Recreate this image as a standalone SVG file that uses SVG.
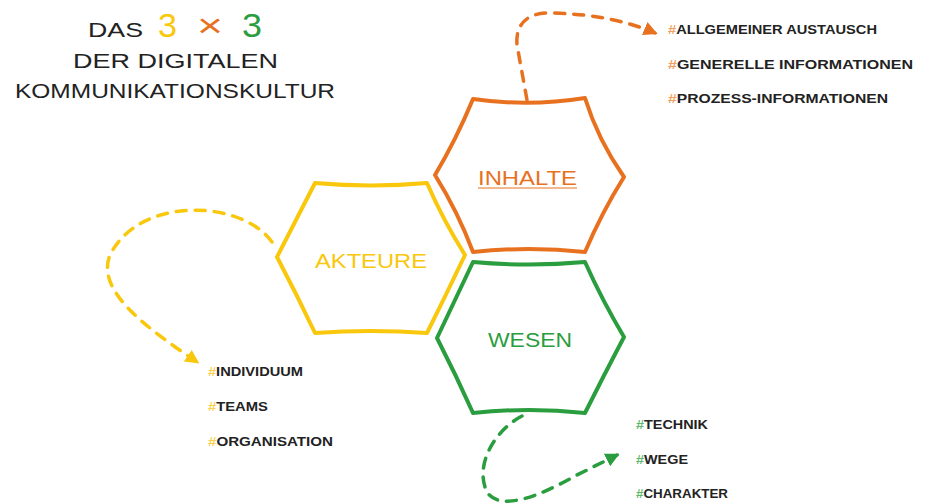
<svg xmlns="http://www.w3.org/2000/svg" width="927" height="503" viewBox="0 0 927 503">
<defs>
<style>
.hex{fill:none;stroke-width:4;stroke-linejoin:round;stroke-linecap:round}
.dash{fill:none;stroke-width:3.5;stroke-dasharray:10 9;stroke-linecap:round}
.t{font-family:"Liberation Sans","DejaVu Sans",sans-serif;fill:#222}
.lst{font-family:"Liberation Sans","DejaVu Sans",sans-serif;font-size:12.5px;font-weight:bold;fill:#222}
.lbl{font-family:"Liberation Sans","DejaVu Sans",sans-serif;font-size:20px}
</style>
<marker id="mo" viewBox="0 0 10 10" refX="8" refY="5" markerWidth="4" markerHeight="4" orient="auto" markerUnits="strokeWidth"><path d="M0,0 L10,5 L0,10 Z" fill="#e8711f"/></marker>
<marker id="my" viewBox="0 0 10 10" refX="8" refY="5" markerWidth="4" markerHeight="4" orient="auto" markerUnits="strokeWidth"><path d="M0,0 L10,5 L0,10 Z" fill="#f9c70c"/></marker>
<marker id="mg" viewBox="0 0 10 10" refX="8" refY="5" markerWidth="4" markerHeight="4" orient="auto" markerUnits="strokeWidth"><path d="M0,0 L10,5 L0,10 Z" fill="#2a9d3f"/></marker>
</defs>
<rect width="927" height="503" fill="#fff"/>

<g id="title">
<text class="t" x="88" y="37" font-size="21" textLength="55" lengthAdjust="spacingAndGlyphs">DAS</text>
<text x="158" y="37" font-family="Liberation Sans,sans-serif" font-size="34" fill="#f9c70c" textLength="19" lengthAdjust="spacingAndGlyphs">3</text>
<text x="197" y="37" font-family="Liberation Sans,sans-serif" font-size="34" fill="#e8711f" textLength="26" lengthAdjust="spacingAndGlyphs">×</text>
<text x="242" y="37" font-family="Liberation Sans,sans-serif" font-size="34" fill="#2a9d3f" textLength="20" lengthAdjust="spacingAndGlyphs">3</text>
<text class="t" x="73" y="68" font-size="20" textLength="205" lengthAdjust="spacingAndGlyphs">DER DIGITALEN</text>
<text class="t" x="15" y="98" font-size="20" textLength="320" lengthAdjust="spacingAndGlyphs">KOMMUNIKATIONSKULTUR</text>
</g>

<g id="connectors">
<path class="dash" stroke="#e8711f" marker-end="url(#mo)" d="M527,100 L517,45 C515,22 530,12 552,13 C590,14 625,20 655,33"/>
<path class="dash" stroke="#f9c70c" marker-end="url(#my)" d="M272,242 C242,200 140,195 110,255 C95,292 150,330 197,362"/>
<path class="dash" stroke="#2a9d3f" marker-end="url(#mg)" d="M522,416 C495,430 474,465 487,492 C500,512 540,496 575,476 L617,455"/>
</g>

<g id="inhalte">
<path class="hex" stroke="#e8711f" d="M473,99 Q529,107 585,98 Q598,140 624,177 Q602,212 585,252 Q529,246 473,252 Q458,212 435,175 Q456,140 473,99 Z"/>
<text class="lbl" x="478" y="185" fill="#e8711f" textLength="99" lengthAdjust="spacingAndGlyphs">INHALTE</text>
<line x1="478" y1="188" x2="577" y2="188" stroke="#e8711f" stroke-width="1"/>
</g>

<g id="akteure">
<path class="hex" stroke="#f9c70c" d="M315,183 Q371,188 427,183 Q443,220 465,255 Q446,295 427,333 Q371,329 315,333 Q297,295 277,257 Q296,220 315,183 Z"/>
<text class="lbl" x="315" y="268" fill="#f9c70c" textLength="112" lengthAdjust="spacingAndGlyphs">AKTEURE</text>
</g>

<g id="wesen">
<path class="hex" stroke="#2a9d3f" d="M473,262 Q529,267 585,262 Q602,300 624,337 Q604,375 585,413 Q529,407 473,413 Q456,375 437,338 Q455,300 473,262 Z"/>
<text class="lbl" x="488" y="347" fill="#2a9d3f" textLength="84" lengthAdjust="spacingAndGlyphs">WESEN</text>
</g>

<g id="inhalte-list">
<text class="lst" x="668" y="34" textLength="209" lengthAdjust="spacingAndGlyphs"><tspan fill="#f0a060">#</tspan>ALLGEMEINER AUSTAUSCH</text>
<text class="lst" x="668" y="69" textLength="245" lengthAdjust="spacingAndGlyphs"><tspan fill="#f0a060">#</tspan>GENERELLE INFORMATIONEN</text>
<text class="lst" x="668" y="103" textLength="220" lengthAdjust="spacingAndGlyphs"><tspan fill="#f0a060">#</tspan>PROZESS-INFORMATIONEN</text>
</g>

<g id="akteure-list">
<text class="lst" x="208" y="376" textLength="95" lengthAdjust="spacingAndGlyphs"><tspan fill="#f9d050">#</tspan>INDIVIDUUM</text>
<text class="lst" x="208" y="411" textLength="60" lengthAdjust="spacingAndGlyphs"><tspan fill="#f9d050">#</tspan>TEAMS</text>
<text class="lst" x="208" y="446" textLength="125" lengthAdjust="spacingAndGlyphs"><tspan fill="#f9d050">#</tspan>ORGANISATION</text>
</g>

<g id="wesen-list">
<text class="lst" x="636" y="429" textLength="72" lengthAdjust="spacingAndGlyphs"><tspan fill="#5cb86c">#</tspan>TECHNIK</text>
<text class="lst" x="636" y="464" textLength="52" lengthAdjust="spacingAndGlyphs"><tspan fill="#5cb86c">#</tspan>WEGE</text>
<text class="lst" x="636" y="498" textLength="92" lengthAdjust="spacingAndGlyphs"><tspan fill="#5cb86c">#</tspan>CHARAKTER</text>
</g>
</svg>
